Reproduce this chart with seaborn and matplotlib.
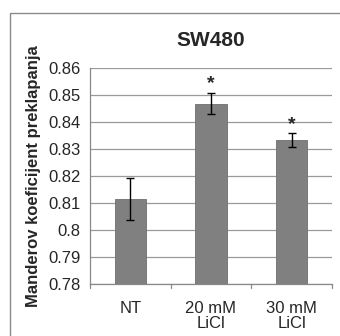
import matplotlib
matplotlib.use("Agg")
import matplotlib.pyplot as plt
import seaborn as sns
import pandas as pd
import numpy as np
from matplotlib.patches import Rectangle

categories = ["NT", "20 mM\nLiCl", "30 mM\nLiCl"]
values = [0.8115, 0.8468, 0.8333]
errors = [0.0079, 0.0040, 0.0025]
stars = ["", "*", "*"]
yticks = [0.78, 0.79, 0.80, 0.81, 0.82, 0.83, 0.84, 0.85, 0.86]
ytick_labels = ["0.78", "0.79", "0.8", "0.81", "0.82", "0.83", "0.84", "0.85", "0.86"]

sns.set_style("white")
plt.rcParams['font.family'] = ['Liberation Sans', 'DejaVu Sans']

df = pd.DataFrame({"cat": categories, "val": values})

fig = plt.figure(figsize=(3.4, 3.36), dpi=100)
ax = fig.add_axes([90/340, 1-284/336, (332-90)/340, (284-68)/336])

sns.barplot(data=df, x="cat", y="val", color="#808080", width=0.39,
            saturation=1, ax=ax, errorbar=None, zorder=3)
for p in ax.patches:
    p.set_edgecolor("#6e6e6e")
    p.set_linewidth(0.6)

xs = np.arange(len(categories))
ax.errorbar(xs, values, yerr=errors, fmt="none", ecolor="black",
            elinewidth=1.0, capsize=3, capthick=1.0, zorder=4)
for x, v, e, s in zip(xs, values, errors, stars):
    if s:
        ax.text(x, v + e + 0.0002, s, ha="center", va="bottom",
                fontsize=14, fontweight="bold")

ax.set_ylim(0.78, 0.86)
ax.set_xlim(-0.5, 2.5)
ax.set_yticks(yticks)
ax.set_yticklabels(ytick_labels, fontsize=12)
ax.tick_params(axis="x", labelsize=12, length=0, pad=12)
ax.tick_params(axis="y", length=4, width=0.8, color="#888888", direction="out", pad=3)
ax.yaxis.grid(True, color="#9a9a9a", linewidth=0.9, zorder=0)
ax.set_axisbelow(True)
for s in ["top", "right"]:
    ax.spines[s].set_visible(False)
for s in ["left", "bottom"]:
    ax.spines[s].set_color("#888888")
    ax.spines[s].set_linewidth(0.9)
for lbl in ax.get_xticklabels():
    lbl.set_linespacing(1.05)

# category separator tick marks on x axis
for xb in [-0.5, 0.5, 1.5, 2.5]:
    ax.plot([xb, xb], [0, -0.017], transform=ax.get_xaxis_transform(),
            color="#888888", linewidth=0.9, clip_on=False)

ax.set_xlabel("")
ax.set_ylabel("Manderov koeficijent preklapanja", fontsize=12,
              fontweight="bold", labelpad=5)
ax.set_title("SW480", fontsize=15, fontweight="bold", pad=16)

fig.patches.append(Rectangle((10/340, -0.1), 1.2, 1 - 13/336 + 0.1,
                             transform=fig.transFigure, fill=False,
                             edgecolor="#8a8a8a", linewidth=1.0))

fig.savefig("out.png", dpi=100)
